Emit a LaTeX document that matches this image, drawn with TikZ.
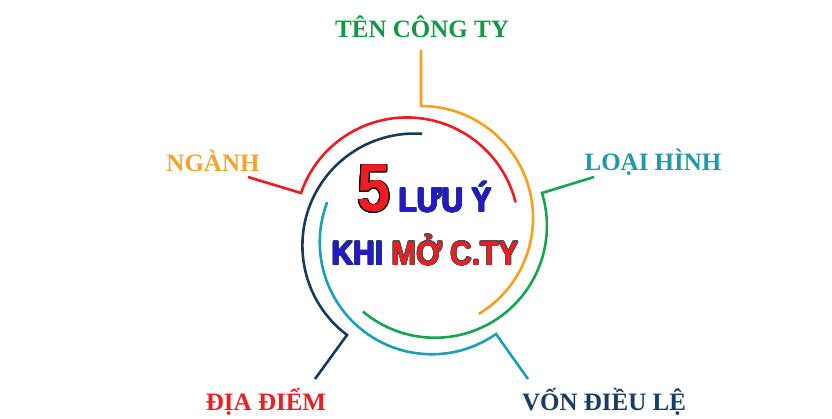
\documentclass[tikz,border=0pt]{standalone}
\usepackage{fontspec}
\setmainfont{Liberation Serif}
\newfontfamily\bigfont[FakeStretch=0.88]{Liberation Sans}
\usepackage{contour}
\contourlength{0.7pt}
\usepackage{tikz}
\usetikzlibrary{positioning}

\definecolor{arcred}{RGB}{236,28,36}
\definecolor{arcorange}{RGB}{245,160,30}
\definecolor{arcgreen}{RGB}{20,165,80}
\definecolor{arcteal}{RGB}{26,160,180}
\definecolor{arcnavy}{RGB}{26,58,90}
\definecolor{txtgreen}{RGB}{20,150,70}
\definecolor{txtorange}{RGB}{240,165,50}
\definecolor{txtteal}{RGB}{30,155,165}
\definecolor{txtred}{RGB}{235,30,35}
\definecolor{txtnavy}{RGB}{25,60,95}
\definecolor{txtblue}{RGB}{40,20,210}

\begin{document}
\begin{tikzpicture}[x=1pt,y=1pt,
  ring/.style={line width=2.6pt},
  lbl/.style={inner sep=0pt,anchor=base,font=\bfseries\fontsize{25}{30}\selectfont},
  bigtxt/.style={inner sep=0pt,anchor=base,font=\bigfont\bfseries\fontsize{34}{40}\selectfont}]
\useasboundingbox[fill=white] (0,0) rectangle (832,418);

%labels round the ring
\node [lbl,text=txtgreen] at (422,380) (ten) {TÊN CÔNG TY};
\node [lbl,text=txtorange] at (213,246) (nganh) {NGÀNH};
\node [lbl,text=txtteal] at (653,247) (loai) {LOẠI HÌNH};
\node [lbl,text=txtred] at (266,8) (diadiem) {ĐỊA ĐIỂM};
\node [lbl,text=txtnavy] at (604,8) (von) {VỐN ĐIỀU LỆ};

%free ends and knees of the arcs
\coordinate (tiporange) at (421,368);
\coordinate (kneeorange) at (421,312);
\coordinate (tipgreen) at (594,241);
\coordinate (kneegreen) at (542,225);
\coordinate (tipred) at (248,241);
\coordinate (kneered) at (301,225);
\coordinate (tipnavy) at (315,39);
\coordinate (kneenavy) at (347,83);
\coordinate (tipteal) at (528,39);
\coordinate (kneeteal) at (496,84);

%draw arcs with their lines
\draw [ring,arcorange] (tiporange) -- (kneeorange) arc[start angle=90,end angle=-59,radius=112];
\draw [ring,arcgreen] (tipgreen) -- (kneegreen) arc[start angle=17,end angle=-130,radius=112];
\draw [ring,arcred] (tipred) -- (kneered) arc[start angle=161,end angle=14,radius=112];
\draw [ring,arcnavy] (tipnavy) -- (kneenavy) arc[start angle=233,end angle=86,radius=112];
\draw [ring,arcteal] (tipteal) -- (kneeteal) arc[start angle=305,end angle=159,radius=112];

%title in the middle
\node [bigtxt,font=\bigfont\bfseries\fontsize{68}{70}\selectfont,text=txtred] at (374,206) (five) {\contour{black}{5}};
\node [bigtxt,text=txtblue] at (445,206) (luuy) {\contour{txtnavy}{LƯU Ý}};
\node [bigtxt] at (425,153) (khimo) {\contour{txtnavy}{\textcolor{txtblue}{KHI}} \contour{black!70}{\textcolor{txtred}{MỞ C.TY}}};

\end{tikzpicture}
\end{document}
